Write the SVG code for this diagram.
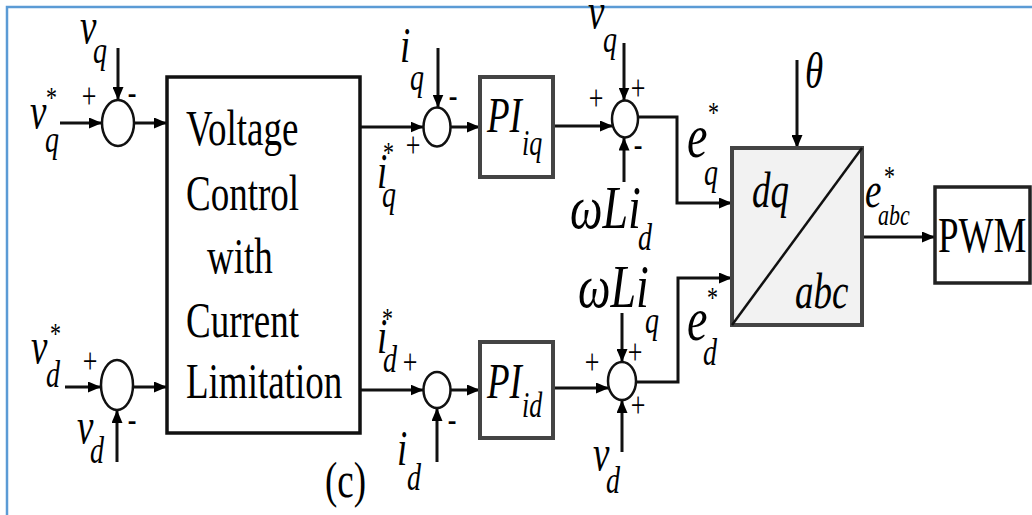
<svg xmlns="http://www.w3.org/2000/svg" width="1032" height="515" viewBox="0 0 1032 515">
<style>
text{font-family:"Liberation Serif","Times New Roman",serif;fill:#000}
.it{font-style:italic}
.b{font-size:37px}
.s{font-size:28px}
.s2{font-size:26px}
.st{font-size:22px;font-style:normal}
.w{font-size:46px}
.sg{font-size:26px;text-anchor:middle}
.arr{fill:none;stroke:#111;stroke-width:3;marker-end:url(#ah)}
.sum{fill:#fff;stroke:#111;stroke-width:2.5}
.box{fill:#fff;stroke:#444;stroke-width:4}
</style>
<defs>
<marker id="ah" markerUnits="userSpaceOnUse" markerWidth="14" markerHeight="11" refX="13" refY="5.5" orient="auto">
<path d="M0,0 L13,5.5 L0,11 z" fill="#000"/>
</marker>
</defs>
<rect width="1032" height="515" fill="#fff"/>
<path d="M7,515 V7 H1032" fill="none" stroke="#5b9bd5" stroke-width="2.5"/>

<g id="connectors">
<path class="arr" d="M60,123 H102"/>
<path class="arr" d="M118,48 V100"/>
<path class="arr" d="M134,123 H167"/>
<path class="arr" d="M65,387 H101"/>
<path class="arr" d="M117,462 V410"/>
<path class="arr" d="M133,387 H167"/>
<path class="arr" d="M360,127 H423.5"/>
<path class="arr" d="M438,48 V107.5"/>
<path class="arr" d="M450.5,127 H480"/>
<path class="arr" d="M360,390 H423.5"/>
<path class="arr" d="M437,462 V408"/>
<path class="arr" d="M450.5,390 H480"/>
<path class="arr" d="M553,126 H613"/>
<path class="arr" d="M624,43 V100.5"/>
<path class="arr" d="M624,182 V137.5"/>
<path class="arr" d="M638,117 H677 V203 H732"/>
<path class="arr" d="M553,388 H609"/>
<path class="arr" d="M622,313 V362"/>
<path class="arr" d="M622,452 V400"/>
<path class="arr" d="M636,382 H678 V278 H732"/>
<path class="arr" d="M797,60 V148"/>
<path class="arr" d="M862,237 H935"/>
</g>

<g id="sum1">
<ellipse class="sum" cx="118" cy="123" rx="16" ry="23"/>
<text class="it b" transform="translate(80,43) scale(1,1.35)">v<tspan class="s" x="13" y="14.8">q</tspan></text>
<text class="sg" transform="translate(89,108) scale(1,1.35)">+</text>
<text class="sg" transform="translate(132,104) scale(1,1.35)">-</text>
<text class="it b" transform="translate(30,128) scale(1,1.35)">v<tspan class="st" x="16" y="-15.6">*</tspan><tspan class="s" x="15" y="17.8">q</tspan></text>
</g>

<g id="sum2">
<ellipse class="sum" cx="117" cy="385" rx="16" ry="25"/>
<text class="it b" transform="translate(31,363) scale(1,1.35)">v<tspan class="st" x="19" y="-14.8">*</tspan><tspan class="s" x="15" y="17.8">d</tspan></text>
<text class="sg" transform="translate(90,373) scale(1,1.35)">+</text>
<text class="it b" transform="translate(77,443) scale(1,1.35)">v<tspan class="s" x="13" y="14.8">d</tspan></text>
<text class="sg" transform="translate(132,431) scale(1,1.35)">-</text>
</g>

<g id="vc">
<rect x="167" y="77" width="193" height="356" fill="#fff" stroke="#111" stroke-width="3.5"/>
<text class="b" transform="translate(186,145) scale(1,1.35)">Voltage</text>
<text class="b" transform="translate(186,210) scale(1,1.35)">Control</text>
<text class="b" transform="translate(207,273) scale(1,1.35)">with</text>
<text class="b" transform="translate(186,337) scale(1,1.35)">Current</text>
<text class="b" transform="translate(186,398) scale(1,1.35)">Limitation</text>
</g>

<g id="sum3">
<ellipse class="sum" cx="437" cy="127" rx="13.5" ry="19.5"/>
<text class="it b" transform="translate(400,62) scale(1,1.35)">i<tspan class="s" x="10" y="20.7">q</tspan></text>
<text class="sg" transform="translate(453,107) scale(1,1.35)">-</text>
<text class="sg" transform="translate(413,157) scale(1,1.35)">+</text>
<text class="it b" transform="translate(377,188) scale(1,1.35)">i<tspan class="st" x="6" y="-19.3">*</tspan><tspan class="s" x="5" y="14.1">q</tspan></text>
</g>

<g id="piq">
<rect class="box" x="480" y="77" width="73" height="100"/>
<text class="it b" transform="translate(487,132) scale(1,1.35)">PI<tspan class="s2" x="35" y="17">iq</tspan></text>
</g>

<g id="sum4">
<ellipse class="sum" cx="437" cy="390" rx="13.5" ry="18"/>
<text class="it b" transform="translate(377,353) scale(1,1.35)">i<tspan class="st" x="5" y="-18.5">*</tspan><tspan class="s" x="6" y="14.1">d</tspan></text>
<text class="sg" transform="translate(410,374) scale(1,1.35)">+</text>
<text class="sg" transform="translate(452,431) scale(1,1.35)">-</text>
<text class="it b" transform="translate(397,465) scale(1,1.35)">i<tspan class="s" x="10" y="18.5">d</tspan></text>
</g>

<g id="pid">
<rect class="box" x="480" y="342" width="73" height="96"/>
<text class="it b" transform="translate(487,398) scale(1,1.35)">PI<tspan class="s2" x="35" y="14.1">id</tspan></text>
</g>

<g id="sum5">
<ellipse class="sum" cx="625" cy="119" rx="13" ry="18.5"/>
<text class="it b" transform="translate(588,28) scale(1,1.35)">v<tspan class="s" x="15" y="17.8">q</tspan></text>
<text class="sg" transform="translate(638,100) scale(1,1.35)">+</text>
<text class="sg" transform="translate(596,110) scale(1,1.35)">+</text>
<text class="sg" transform="translate(638,156) scale(1,1.35)">-</text>
<text class="it w" transform="translate(570,228) scale(1,1.35)">ωLi<tspan class="s" x="68" y="16.3">d</tspan></text>
<text class="it w" transform="translate(687,157) scale(1,1.35)">e<tspan class="st" x="21" y="-25.9">*</tspan><tspan class="s" x="17" y="20.7">q</tspan></text>
</g>

<g id="sum6">
<ellipse class="sum" cx="622" cy="381" rx="14" ry="19"/>
<text class="it w" transform="translate(578,307) scale(1,1.35)">ωLi<tspan class="s" x="67" y="19.3">q</tspan></text>
<text class="sg" transform="translate(635,364) scale(1,1.35)">+</text>
<text class="sg" transform="translate(592,374) scale(1,1.35)">+</text>
<text class="sg" transform="translate(638,417) scale(1,1.35)">+</text>
<text class="it b" transform="translate(593,470) scale(1,1.35)">v<tspan class="s" x="13" y="17">d</tspan></text>
<text class="it w" transform="translate(687,340) scale(1,1.35)">e<tspan class="st" x="20" y="-24.4">*</tspan><tspan class="s" x="16" y="18.5">d</tspan></text>
</g>

<g id="dqabc">
<rect x="732" y="148" width="130" height="177" fill="#f2f2f2" stroke="#444" stroke-width="4"/>
<path d="M732,325 L862,148" stroke="#111" stroke-width="2.5"/>
<text class="it b" transform="translate(752,207) scale(1,1.35)">dq</text>
<text class="it b" transform="translate(795,308) scale(1,1.35)">abc</text>
<text class="it b" transform="translate(805,88) scale(1,1.35)">θ</text>
<text class="it b" transform="translate(865,207) scale(1,1.35)">e<tspan class="st" x="19" y="-15.6">*</tspan><tspan font-size="22" x="13" y="13.3">abc</tspan></text>
</g>

<g id="pwm">
<rect x="935" y="187" width="95" height="96" fill="#fff" stroke="#222" stroke-width="3.5"/>
<text class="b" transform="translate(938,252) scale(1,1.35)">PWM</text>
</g>

<g id="caption">
<text class="b" transform="translate(325,497) scale(1,1.35)">(c)</text>
</g>
</svg>
